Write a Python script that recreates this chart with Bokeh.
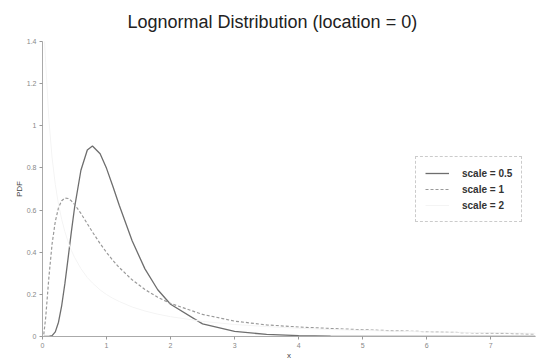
from bokeh.plotting import figure
from bokeh.models import Range1d, Legend, LegendItem, FixedTicker
from bokeh.embed import file_html
from bokeh.resources import INLINE

x_vals = [0.02, 0.05, 0.1, 0.15, 0.2, 0.25, 0.3, 0.35, 0.4, 0.45, 0.5, 0.6, 0.7, 0.78, 0.9,
          1.0, 1.1, 1.2, 1.4, 1.6, 1.8, 2.0, 2.5, 3.0, 3.5, 4.0, 4.5, 5.0, 5.5, 6.0, 6.5, 7.0, 7.5, 7.7]
pdf_scale_05 = [0, 0, 0, 0.004, 0.022, 0.068, 0.147, 0.252, 0.372, 0.495, 0.610, 0.789, 0.885, 0.904, 0.867,
                0.798, 0.712, 0.622, 0.454, 0.321, 0.222, 0.153, 0.060, 0.024, 0.010, 0.004, 0.002, 0.001, 0, 0, 0, 0, 0, 0]
pdf_scale_1 = [0.010, 0.090, 0.282, 0.440, 0.546, 0.611, 0.644, 0.657, 0.655, 0.644, 0.627, 0.584, 0.535, 0.496, 0.441,
               0.399, 0.361, 0.327, 0.269, 0.223, 0.186, 0.157, 0.105, 0.073, 0.055, 0.045, 0.038, 0.032, 0.027, 0.023, 0.019, 0.016, 0.013, 0.012]
pdf_scale_2 = [1.47, 1.30, 1.03, 0.848, 0.721, 0.627, 0.555, 0.497, 0.449, 0.409, 0.376, 0.322, 0.280, 0.254, 0.221,
               0.199, 0.181, 0.166, 0.140, 0.121, 0.106, 0.094, 0.072, 0.057, 0.047, 0.039, 0.033, 0.029, 0.025, 0.022, 0.020, 0.018, 0.016, 0.015]
series_labels = ["scale = 0.5", "scale = 1", "scale = 2"]
y_ticks = [0, 0.2, 0.4, 0.6, 0.8, 1.0, 1.2, 1.4]
y_tick_labels = {0: "0", 0.2: "0.2", 0.4: "0.4", 0.6: "0.6", 0.8: "0.8", 1.0: "1", 1.2: "1.2", 1.4: "1.4"}
x_ticks = [0, 1, 2, 3, 4, 5, 6, 7]

p = figure(width=541, height=362, output_backend="svg", toolbar_location=None,
           x_range=Range1d(0, 7.7), y_range=Range1d(0, 1.4),
           min_border_left=42, min_border_right=6, min_border_top=41, min_border_bottom=0)
p.outline_line_color = None
p.xgrid.visible = False
p.ygrid.visible = False

p.title.text = "Lognormal Distribution (location = 0)"
p.title.align = "left"
p.title.offset = 85
p.title.standoff = 16
p.title.vertical_align = "top"
p.title.text_font = "Liberation Sans"
p.title.text_font_size = "18px"
p.title.text_font_style = "normal"
p.title.text_color = "#222222"

r1 = p.line(x_vals, pdf_scale_05, line_color="#6e6e6e", line_width=1.3)
r2 = p.line(x_vals, pdf_scale_1, line_color="#9a9a9a", line_width=1.2, line_dash="3 2")
r3 = p.line(x_vals, pdf_scale_2, line_color="#f4f4f4", line_width=1.0)

legend = Legend(items=[LegendItem(label=series_labels[0], renderers=[r1]),
                       LegendItem(label=series_labels[1], renderers=[r2]),
                       LegendItem(label=series_labels[2], renderers=[r3])],
                location=(373, 114))
legend.label_text_font = "Liberation Sans"
legend.label_text_font_size = "10px"
legend.label_text_font_style = "bold"
legend.label_text_color = "#333333"
legend.glyph_width = 24
legend.glyph_height = 14
legend.label_height = 14
legend.spacing = 2
legend.padding = 9
legend.label_standoff = 13
legend.border_line_color = "#999999"
legend.border_line_dash = "2 2"
legend.border_line_width = 1
legend.background_fill_alpha = 0
p.add_layout(legend, "center")

for ax in (p.xaxis[0], p.yaxis[0]):
    ax.axis_line_color = "#aaaaaa"
    ax.major_tick_line_color = "#999999"
    ax.minor_tick_line_color = None
    ax.major_tick_out = 3
    ax.major_tick_in = 0
    ax.major_label_text_font = "Liberation Sans"
    ax.major_label_text_font_size = "7px"
    ax.major_label_text_color = "#888888"
    ax.axis_label_text_font = "Liberation Sans"
    ax.axis_label_text_font_size = "8px"
    ax.axis_label_text_font_style = "normal"
    ax.axis_label_text_color = "#444444"

p.yaxis[0].ticker = FixedTicker(ticks=y_ticks)
p.yaxis[0].major_label_overrides = y_tick_labels
p.yaxis[0].axis_label = "PDF"
p.yaxis[0].axis_label_standoff = 0
p.yaxis[0].major_label_standoff = 3
p.xaxis[0].ticker = FixedTicker(ticks=x_ticks)
p.xaxis[0].axis_label = "x"
p.xaxis[0].axis_label_standoff = 0
p.xaxis[0].major_label_standoff = 3

open("out.html", "w").write(file_html(p, INLINE))
